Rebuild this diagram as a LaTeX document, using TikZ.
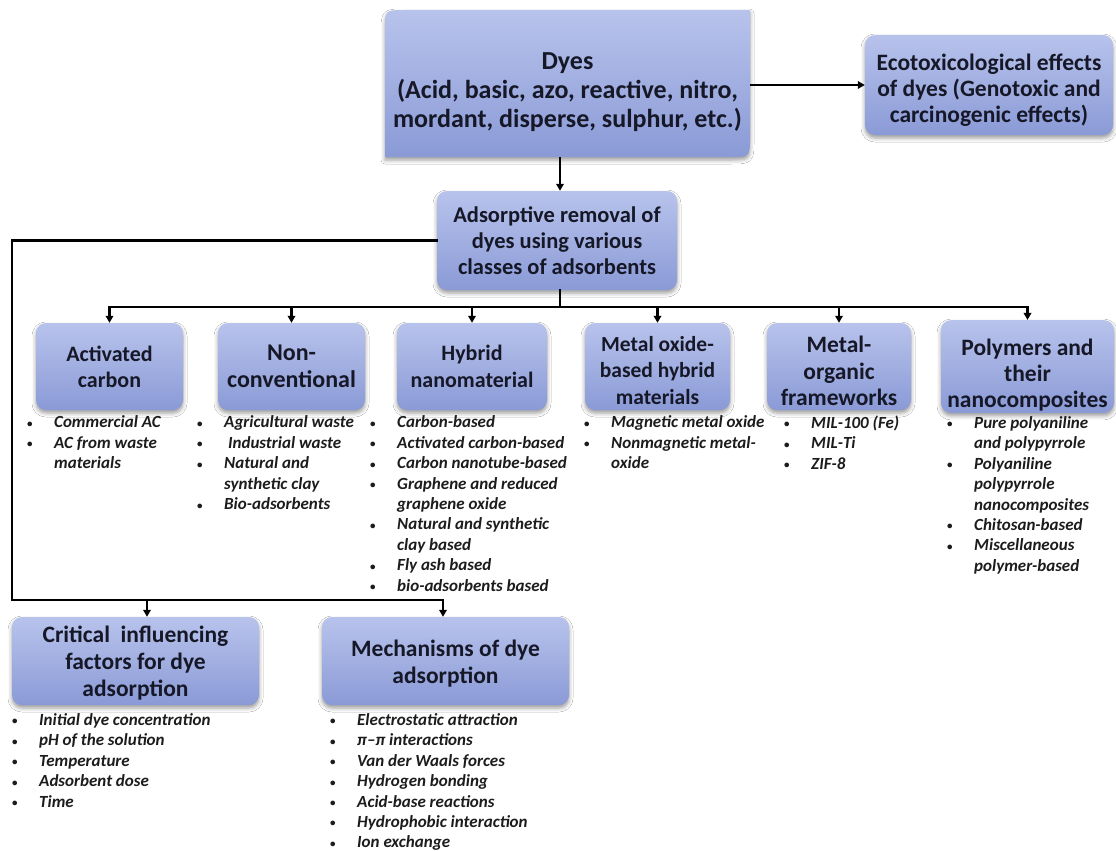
\documentclass[tikz,border=0pt]{standalone}
\usepackage{fontspec}
\setmainfont{Carlito}
\usetikzlibrary{shadows.blur,arrows.meta}
\definecolor{boxtop}{RGB}{184,195,236}
\definecolor{boxbot}{RGB}{138,154,214}
\definecolor{boxtxt}{RGB}{22,24,40}
\definecolor{listtxt}{RGB}{28,28,28}
\newcommand{\bitem}{\makebox[28pt][l]{\hspace*{1pt}\raisebox{0.5pt}{\upshape\fontsize{11}{11}\selectfont\textbullet}}}
\newcommand{\bcont}{\hspace*{28pt}}
\newcommand{\dn}[1]{\rule{0pt}{#1}}
\begin{document}
\begin{tikzpicture}[x=1pt,y=-1pt,
  boxbase/.style={rectangle, inner sep=2pt, align=center, text=boxtxt, font=\bfseries},
  shadowstyle/.style={blur shadow={shadow xshift=0pt, shadow yshift=-3pt, shadow blur radius=4pt, shadow opacity=40}},
  rbox/.style={boxbase, rounded corners=10pt, top color=boxtop, bottom color=boxbot, shadowstyle},
  rowbox/.style={rbox, minimum height=87pt},
  lowbox/.style={rbox, minimum width=247pt, minimum height=88pt, font=\fontsize{23.5}{27}\selectfont\bfseries},
  conn/.style={line width=2.2pt, black, line cap=rect},
  arr/.style={line width=2.2pt, black, -{Triangle[length=7pt,width=7.5pt]}},
  lst/.style={anchor=north west, inner sep=0pt, align=left, text=listtxt,
     font=\fontsize{17}{20.4}\selectfont\bfseries\itshape}
]
\fill[white] (0,0) rectangle (1116,851);
\useasboundingbox (0,0) rectangle (1116,851);

% top boxes
\shade[top color=boxtop, bottom color=boxbot, shadowstyle]
  (385,157) -- (385,30) .. controls (385,10) .. (405,10)
  -- (750,10) -- (750,137) .. controls (750,157) .. (730,157) -- cycle;
\node[boxbase, minimum width=365pt, minimum height=147pt,
      font=\fontsize{26}{29}\selectfont\bfseries] (dyes) at (567.5,83.5)
  {\dn{34pt}Dyes\\(Acid, basic, azo, reactive, nitro,\\mordant, disperse, sulphur, etc.)};

\node[rbox, minimum width=248pt, minimum height=100pt,
      font=\fontsize{23.5}{26}\selectfont\bfseries] (eco) at (989,85)
  {\dn{26pt}Ecotoxicological effects\\of dyes (Genotoxic and\\carcinogenic effects)};

\node[rbox, minimum width=240pt, minimum height=99pt,
      font=\fontsize{22.5}{26}\selectfont\bfseries] (ads) at (557,240.5)
  {Adsorptive removal of\\dyes using various\\classes of adsorbents};

% row of adsorbent classes
\node[rowbox, minimum width=147pt, font=\fontsize{22}{26}\selectfont\bfseries] (act) at (109.5,366.5) {Activated\\carbon};
\node[rowbox, minimum width=147pt, font=\fontsize{24}{27}\selectfont\bfseries] (non) at (291.5,366.5) {Non-\\conventional};
\node[rowbox, minimum width=150pt, font=\fontsize{22}{27}\selectfont\bfseries] (hyb) at (472,366.5) {Hybrid\\nanomaterial};
\node[rowbox, minimum width=145pt, font=\fontsize{21.5}{26.5}\selectfont\bfseries] (met) at (657.5,366.5) {\dn{23pt}Metal oxide-\\based hybrid\\materials};
\node[rowbox, minimum width=144pt, font=\fontsize{23.5}{26.5}\selectfont\bfseries] (mof) at (839,366.5) {\dn{26pt}Metal-\\organic\\frameworks};
\node[rowbox, minimum width=173pt, font=\fontsize{23.5}{26}\selectfont\bfseries] (pol) at (1027.5,366.5) {\dn{33pt}Polymers and\\their\\nanocomposites};

% lower boxes
\node[lowbox] (crit) at (135.5,661) {\dn{21pt}Critical~ influencing\\factors for dye\\adsorption};
\node[lowbox] (mech) at (445.5,661) {\dn{22pt}Mechanisms of dye\\adsorption};

% lists
\node[lst] (actL) at (26,413.5) {\strut\bitem Commercial AC\\\strut\bitem AC from waste\\\strut\bcont materials};
\node[lst] (nonL) at (196,413.5) {\strut\bitem Agricultural waste\\\strut\bitem\ Industrial waste\\\strut\bitem Natural and\\\strut\bcont synthetic clay\\\strut\bitem Bio-adsorbents};
\node[lst] (hybL) at (369,413.5) {\strut\bitem Carbon-based\\\strut\bitem Activated carbon-based\\\strut\bitem Carbon nanotube-based\\\strut\bitem Graphene and reduced\\\strut\bcont graphene oxide\\\strut\bitem Natural and synthetic\\\strut\bcont clay based\\\strut\bitem Fly ash based\\\strut\bitem bio-adsorbents based};
\node[lst] (metL) at (583,413.5) {\strut\bitem Magnetic metal oxide\\\strut\bitem Nonmagnetic metal-\\\strut\bcont oxide};
\node[lst] (mofL) at (783,414) {\strut\bitem MIL-100 (Fe)\\\strut\bitem MIL-Ti\\\strut\bitem ZIF-8};
\node[lst] (polL) at (946,414) {\strut\bitem Pure polyaniline\\\strut\bcont and polypyrrole\\\strut\bitem Polyaniline\\\strut\bcont polypyrrole\\\strut\bcont nanocomposites\\\strut\bitem Chitosan-based\\\strut\bitem Miscellaneous\\\strut\bcont polymer-based};
\node[lst] (critL) at (11,711) {\strut\bitem Initial dye concentration\\\strut\bitem pH of the solution\\\strut\bitem Temperature\\\strut\bitem Adsorbent dose\\\strut\bitem Time};
\node[lst] (mechL) at (329,711) {\strut\bitem Electrostatic attraction\\\strut\bitem π–π interactions\\\strut\bitem Van der Waals forces\\\strut\bitem Hydrogen bonding\\\strut\bitem Acid-base reactions\\\strut\bitem Hydrophobic interaction\\\strut\bitem Ion exchange};

% connectors
\coordinate (sx) at (560,0);
\coordinate (bus) at (0,307);
\coordinate (lx) at (12,0);
\coordinate (lb) at (0,600);
\coordinate (cx) at (147,0);
\coordinate (mx) at (443,0);

\draw[arr] (dyes.east |- eco.west) -- (eco.west);
\draw[arr] (dyes.south -| sx) -- (ads.north -| sx);
\draw[conn] (ads.south -| sx) -- (bus -| sx);
\draw[conn] (bus -| act.north) -- (bus -| pol.north);
\foreach \n in {act,non,hyb,met,mof,pol}
  \draw[arr] (bus -| \n.north) -- (\n.north);
\draw[conn] (ads.west) -- (ads.west -| lx) -- (lb -| lx) -- (lb -| mx);
\draw[arr] (lb -| cx) -- (crit.north -| cx);
\draw[arr] (lb -| mx) -- (mech.north -| mx);
\end{tikzpicture}
\end{document}
